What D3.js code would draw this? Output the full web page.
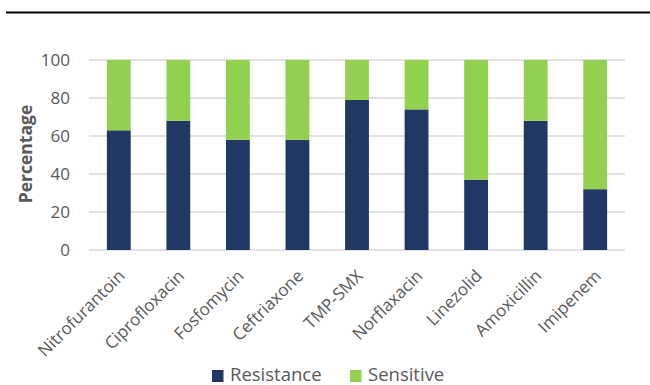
<!DOCTYPE html>
<html>
<head>
<meta charset="utf-8">
<script src="https://cdn.jsdelivr.net/npm/d3@7"></script>
<style>
  html, body { margin: 0; padding: 0; background: #fff; }
  svg { display: block; font-family: "Open Sans", "Noto Sans", sans-serif; }
</style>
</head>
<body>
<svg id="chart" width="650" height="385"></svg>
<script>
// Antibiotic susceptibility, percentages per drug
const drugs = ["Nitrofurantoin", "Ciprofloxacin", "Fosfomycin", "Ceftriaxone", "TMP-SMX", "Norflaxacin", "Linezolid", "Amoxicillin", "Imipenem"];
const resistance = [63, 68, 58, 58, 79, 74, 37, 68, 32];
const sensitive = [37, 32, 42, 42, 21, 26, 63, 32, 68];
const seriesNames = ["Resistance", "Sensitive"];
const seriesColors = ["#203864", "#92D050"];
const yTicks = [0, 20, 40, 60, 80, 100];

const svg = d3.select("#chart");
const margin = { left: 89, right: 25, top: 60, bottom: 135 };
const W = 650, H = 385;
const textColor = "#595959";

// header rule
svg.append("line")
  .attr("x1", 6).attr("x2", W).attr("y1", 12.5).attr("y2", 12.5)
  .attr("stroke", "#000").attr("stroke-width", 2);

const x = d3.scaleBand().domain(drugs).range([margin.left, W - margin.right]).paddingInner(0.6).paddingOuter(0.3);
const y = d3.scaleLinear().domain([0, 100]).range([H - margin.bottom, margin.top]);

// gridlines
svg.append("g").selectAll("line").data(yTicks).join("line")
  .attr("x1", margin.left).attr("x2", W - margin.right)
  .attr("y1", d => y(d)).attr("y2", d => y(d))
  .attr("stroke", "#d9d9d9").attr("stroke-width", 1.5);

// y axis labels
const yAxis = svg.append("g")
  .attr("transform", `translate(${margin.left - 19},0)`)
  .call(d3.axisLeft(y).tickValues(yTicks).tickSize(0).tickPadding(0));
yAxis.select(".domain").remove();
yAxis.selectAll("text")
  .attr("font-size", 17).attr("fill", textColor)
  .attr("font-family", "'Open Sans', sans-serif");

// y axis title
svg.append("text")
  .attr("transform", `translate(32,${y(50) - 1}) rotate(-90)`)
  .attr("text-anchor", "middle")
  .attr("font-size", 17.5).attr("font-weight", "bold").attr("fill", textColor)
  .text("Percentage");

// stacked bars
const rows = drugs.map((d, i) => ({ drug: d, Resistance: resistance[i], Sensitive: sensitive[i] }));
const stacked = d3.stack().keys(seriesNames)(rows);
svg.append("g").selectAll("g").data(stacked).join("g")
  .attr("fill", (d, i) => seriesColors[i])
  .selectAll("rect").data(d => d).join("rect")
  .attr("x", d => x(d.data.drug))
  .attr("width", x.bandwidth())
  .attr("y", d => y(d[1]))
  .attr("height", d => y(d[0]) - y(d[1]));

// x axis labels, rotated
const xAxis = svg.append("g")
  .attr("transform", `translate(0,${y(0)})`)
  .call(d3.axisBottom(x).tickSize(0).tickPadding(0));
xAxis.select(".domain").remove();
xAxis.selectAll("text")
  .attr("font-size", 17).attr("fill", textColor)
  .attr("font-family", "'Open Sans', sans-serif")
  .attr("text-anchor", "end")
  .attr("dy", 0)
  .attr("transform", "translate(7,27) rotate(-45)");

// legend
const legend = svg.append("g").attr("transform", `translate(212,375)`);
const legendX = [0, 138];
seriesNames.forEach((name, i) => {
  const g = legend.append("g").attr("transform", `translate(${legendX[i]},0)`);
  g.append("rect").attr("x", 0).attr("y", -5).attr("width", 11.5).attr("height", 12).attr("fill", seriesColors[i]);
  g.append("text").attr("x", 18).attr("y", 6)
    .attr("font-size", 18.5).attr("fill", textColor).text(name);
});
</script>
</body>
</html>
